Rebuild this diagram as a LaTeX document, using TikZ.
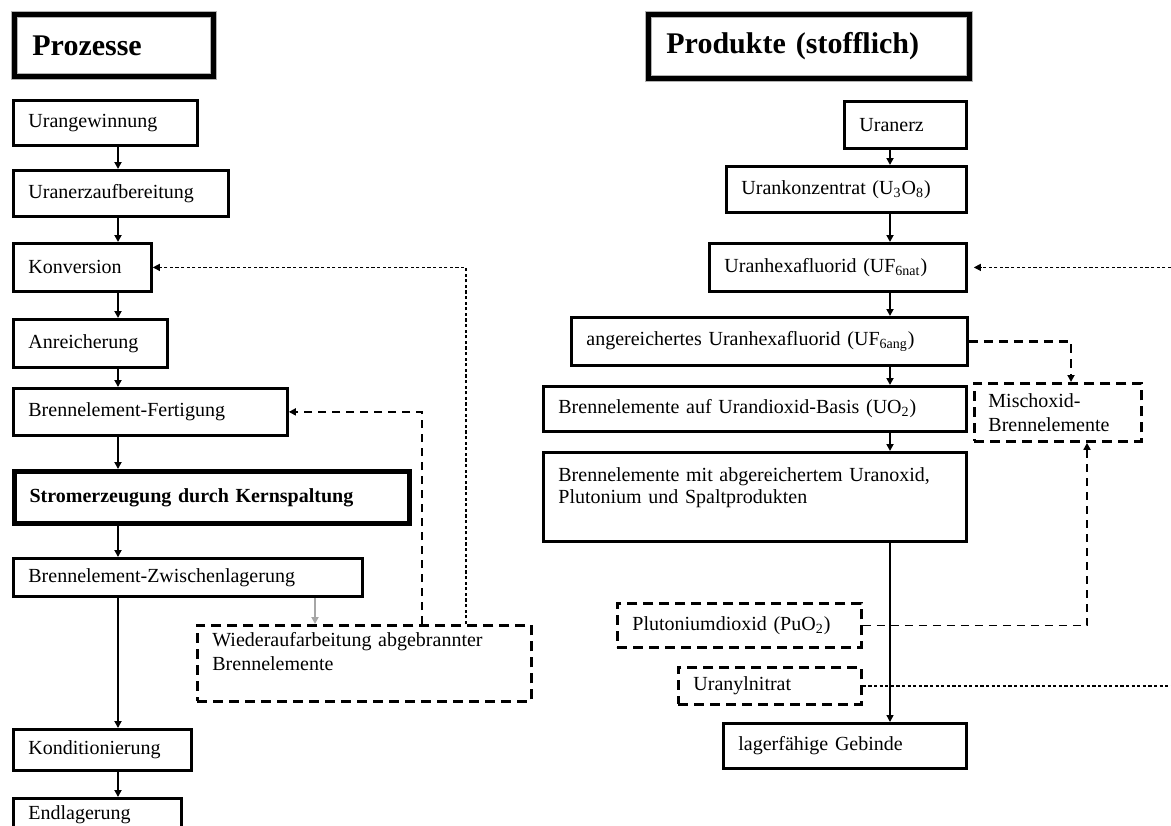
\documentclass[tikz,border=0pt]{standalone}
\usepackage{fontspec}
\setmainfont{Liberation Serif}
\usetikzlibrary{arrows.meta,calc}
\begin{document}
\begin{tikzpicture}[x=0.5pt,y=-0.5pt,
  every node/.style={font=\fontsize{10}{12}\selectfont},
  bx/.style={draw=black, line width=1.4pt, anchor=north west, inner xsep=7.5pt, inner ysep=0pt, align=left},
  dbx/.style={bx, dash pattern=on 5pt off 3pt},
  hdr/.style={draw=black, line width=2.4pt, anchor=north west, inner xsep=9pt, inner ysep=0pt, align=left,
    font=\fontsize{15}{18}\selectfont\bfseries, preaction={draw=gray!60, line width=3.6pt}},
  tip/.style={-{Triangle[length=3.5pt,width=3.5pt]}},
  arr/.style={line width=0.9pt, tip},
  dotln/.style={line width=0.6pt, dash pattern=on 1.6pt off 1.2pt},
  dashln/.style={line width=0.8pt, dash pattern=on 4pt off 3pt},
  dashthk/.style={line width=1.2pt, dash pattern=on 4.5pt off 3pt}
]
\useasboundingbox (0,0) rectangle (1171,825);
% ---------- left column: Prozesse ----------
\node[hdr, text width=81.5pt, minimum height=31pt] (hl) at (12,12) {Prozesse};
\node[bx, text width=77pt,  minimum height=22.5pt] (urg)  at (12,99)  {Urangewinnung};
\node[bx, text width=92.5pt,minimum height=23pt]   (uea)  at (12,169) {Uranerzaufbereitung};
\node[bx, text width=54pt,  minimum height=24pt]   (kon)  at (12,242) {Konversion};
\node[bx, text width=62pt,  minimum height=24pt]   (anr)  at (12,318) {Anreicherung};
\node[bx, text width=122pt, minimum height=23.5pt] (fer)  at (12,387) {Brennelement-Fertigung};
\node[bx, line width=2.6pt, text width=182.5pt, minimum height=26pt, font=\fontsize{10}{12}\selectfont\bfseries] (str) at (12,469) {Stromerzeugung durch Kernspaltung};
\node[bx, text width=159.5pt,minimum height=19pt]  (zwi)  at (12,557) {Brennelement-Zwischenlagerung};
\node[dbx, text width=152pt, minimum height=38pt]  (wie)  at (196,624) {Wiederaufarbeitung abgebrannter\\Brennelemente\\\mbox{}};
\node[bx, text width=74pt,  minimum height=20.5pt] (kond) at (12,728) {Konditionierung};
\node[bx, text width=69pt,  minimum height=16pt]   (endl) at (12,797) {Endlagerung};

\coordinate (cl) at (118,0);
\coordinate (cw) at (315,0);
\coordinate (cf) at (422,0);
\coordinate (ck) at (466,0);
\draw[arr] (urg.south -| cl) -- (uea.north -| cl);
\draw[arr] (uea.south -| cl) -- (kon.north -| cl);
\draw[arr] (kon.south -| cl) -- (anr.north -| cl);
\draw[arr] (anr.south -| cl) -- (fer.north -| cl);
\draw[arr] (fer.south -| cl) -- (str.north -| cl);
\draw[arr] (str.south -| cl) -- (zwi.north -| cl);
\draw[arr] (zwi.south -| cl) -- (kond.north -| cl);
\draw[arr] (kond.south -| cl) -- (endl.north -| cl);
\draw[arr, draw=gray!70] (zwi.south -| cw) -- (wie.north -| cw);
\draw[dotln, tip] (wie.north -| ck) |- (kon.east);
\draw[dashln, tip] (wie.north -| cf) |- (fer.east);

% ---------- right column: Produkte ----------
\node[hdr, text width=142.5pt, minimum height=32pt] (hr) at (646,12) {Produkte (stofflich)};
\node[bx, text width=46pt,   minimum height=23.5pt] (uerz) at (843,100) {Uranerz};
\node[bx, text width=105pt,  minimum height=23pt]   (ukon) at (725,165) {Urankonzentrat (U\textsubscript{3}O\textsubscript{8})};
\node[bx, text width=113.5pt,minimum height=24pt]   (uhex) at (708,242) {Uranhexafluorid (UF\textsubscript{6nat})};
\node[bx, text width=183pt,  minimum height=24pt]   (anre) at (570,316) {angereichertes Uranhexafluorid (UF\textsubscript{6ang})};
\node[bx, text width=196.5pt,minimum height=22.5pt] (uo2)  at (542,385) {Brennelemente auf Urandioxid-Basis (UO\textsubscript{2})};
\node[bx, text width=196.5pt,minimum height=44.5pt, font=\fontsize{10}{11}\selectfont] (bmit) at (542,451) {Brennelemente mit abgereichertem Uranoxid,\\Plutonium und Spaltprodukten\\\mbox{}};
\node[dbx, inner xsep=7pt, text width=69.5pt, minimum height=29pt] (mox) at (973,382) {Mischoxid-\\Brennelemente};
\node[dbx, text width=107pt,  minimum height=22pt]  (pu)   at (616,602) {Plutoniumdioxid (PuO\textsubscript{2})};
\node[dbx, text width=76.5pt, minimum height=18.5pt](unit) at (677,666) {Uranylnitrat};
\node[bx, text width=106.5pt, minimum height=22.5pt](lag)  at (722,722) {lagerfähige Gebinde};

\coordinate (cr) at (890,0);
\coordinate (cm1) at (1071,0);
\coordinate (cm2) at (1087,0);
\coordinate (redge) at (1171,0);
\draw[arr] (uerz.south -| cr) -- (ukon.north -| cr);
\draw[arr] (ukon.south -| cr) -- (uhex.north -| cr);
\draw[arr] (uhex.south -| cr) -- (anre.north -| cr);
\draw[arr] (anre.south -| cr) -- (uo2.north -| cr);
\draw[arr] (uo2.south -| cr) -- (bmit.north -| cr);
\draw[line width=0.7pt, tip] (bmit.south -| cr) -- (lag.north -| cr);
\draw[dotln, tip, shorten >=3pt] (uhex.east -| redge) -- (uhex.east);
\draw[dashthk, tip] (anre.east) -| (mox.north -| cm1);
\draw[dashln, tip] (pu.east) -| (mox.south -| cm2);
\draw[dotln] (unit.east) -- (unit.east -| redge);
\end{tikzpicture}
\end{document}
